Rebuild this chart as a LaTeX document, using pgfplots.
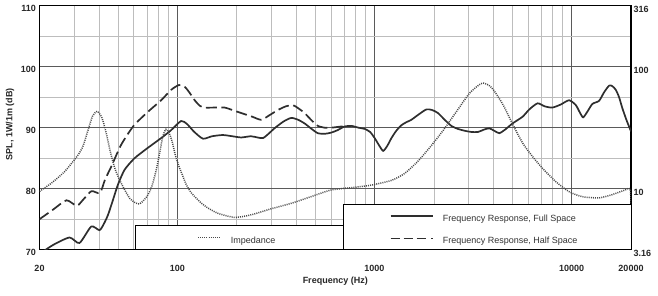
\documentclass[border=0pt]{standalone}
\usepackage{pgfplots}
\pgfplotsset{compat=1.18}
\usepackage{fontspec}
\setmainfont{Liberation Sans}
\definecolor{curve}{HTML}{2E2E2E}
\definecolor{dotc}{HTML}{4A4A4A}
\definecolor{majg}{HTML}{5A5A5A}
\definecolor{ming}{HTML}{BDBDBD}
\begin{document}
\begin{tikzpicture}
\path[use as bounding box] (-39.5pt,-45.3pt) rectangle (618.5pt,249.7pt);
\begin{axis}[
  scale only axis, width=591.5pt, height=244pt,
  xmode=log, xmin=20, xmax=20000, ymin=70, ymax=110,
  xtick={20,100,1000,10000,20000}, xticklabels={20,100,1000,10000,20000},
  minor xtick={30,40,50,60,70,80,90,200,300,400,500,600,700,800,900,2000,3000,4000,5000,6000,7000,8000,9000},
  ytick={70,80,90,100,110}, yticklabels={70,80,90,100,110},
  minor ytick={75,85,95,105},
  grid=both,
  major grid style={majg, line width=0.7pt},
  minor grid style={ming, line width=0.5pt},
  major tick length=0pt, minor tick length=0pt,
  axis line style={black, line width=1.2pt},
  tick label style={font=\fontsize{9}{10}\selectfont\bfseries, text=black!85},
  xticklabel style={anchor=center, yshift=-18.3pt},
  yticklabel style={anchor=east, inner sep=0pt, xshift=-3.5pt, yshift=-3pt},
  ylabel={SPL, 1W/1m (dB)},
  xlabel={Frequency (Hz)},
  label style={font=\fontsize{9}{10}\selectfont\bfseries, text=black!85},
  ylabel style={at={(axis description cs:-0.0499,0.515)}, anchor=center},
  xlabel style={at={(axis description cs:0.5,-0.131)}, anchor=center},
]
% Full space
\addplot[curve, line width=1.7pt, smooth, tension=0.4] coordinates {
(20,69.3) (23.5,70.8) (28.4,72.0) (31.9,71.1) (36.6,73.8) (40.3,73.2) (42.5,74.3)
(44.5,75.7) (47,78.0) (49.9,80.6) (54,83.1) (60.7,85.0) (70.9,86.7) (82.8,88.3)
(93,89.6) (104.5,91.1) (112,90.6) (122,89.3) (135,88.2) (150,88.6) (170,88.8)
(190,88.6) (211,88.4) (236,88.6) (255,88.4) (272,88.3) (290,89.0) (311,89.9)
(345,91.0) (378,91.6) (410,91.3) (442,90.7) (480,89.8) (516,89.1) (560,89.0)
(604,89.2) (650,89.6) (706,90.2) (764,90.3) (830,90.0) (893,89.8) (950,89.3)
(1002,88.3) (1060,87.0) (1107,86.2) (1160,87.0) (1219,88.3) (1290,89.5) (1369,90.4)
(1450,90.9) (1538,91.3) (1680,92.2) (1833,93.0) (1960,92.9) (2099,92.4) (2270,91.3)
(2453,90.3) (2650,89.8) (2866,89.5) (3100,89.3) (3350,89.3) (3600,89.7) (3820,89.9)
(4050,89.5) (4295,89.1) (4600,89.7) (5014,90.7) (5637,91.8) (6100,93.0) (6716,94.0)
(7300,93.5) (7987,93.3) (8800,93.8) (9705,94.5) (10500,93.7) (11000,92.5) (11430,91.7)
(12000,92.6) (12740,93.9) (13770,94.4) (14600,95.8) (15490,96.9) (16100,96.8)
(16750,96.2) (17400,95.0) (18080,93.2) (19000,91.2) (20000,89.4)
};
% Half space
\addplot[curve, line width=1.7pt, dash pattern=on 11pt off 4.5pt, smooth, tension=0.4] coordinates {
(20,75.0) (23.5,76.6) (27.4,78.1) (30.9,77.2) (33.5,78.3) (36.7,79.6) (40.5,79.3)
(43,81.5) (46.2,83.6) (51.9,87.2) (60,90.3) (70.9,92.6) (82.8,94.5) (93,96.2)
(102,97.0) (109,96.7) (115,95.8) (122.5,94.5) (130,93.6) (137.7,93.3) (155,93.3)
(173.8,93.3) (190,92.9) (211,92.4) (240,91.8) (266.7,91.3) (295,92.1) (323.6,92.9)
(355,93.5) (385.5,93.7) (410,93.2) (442,92.4) (480,91.2) (516,90.3) (560,90.0)
(604,90.0) (680,90.2) (764,90.3)
};
\end{axis}
\begin{axis}[
  scale only axis, width=591.5pt, height=244pt,
  xmode=log, ymode=log, xmin=20, xmax=20000, ymin=3.1623, ymax=316.23,
  axis x line=none, axis y line*=right,
  axis line style={draw=none},
  ytick={3.1623,10,100,316.23}, yticklabels={3.16,10,100,316},
  major tick length=0pt, minor tick length=0pt,
  yminorticks=false,
  tick label style={font=\fontsize{9}{10}\selectfont\bfseries, text=black!85},
  yticklabel style={anchor=west, inner sep=0pt, xshift=2.5pt, yshift=-3.5pt},
]
% Impedance
\addplot[dotc, line width=1.5pt, dash pattern=on 1pt off 1.1pt, smooth, tension=0.4] coordinates {
(20,9.5) (22.96,11.1) (26.8,13.8) (31.3,18.8) (33.3,22.5) (35.2,30.0) (37.2,39.5)
(39.3,43.0) (41.5,38.0) (43.5,29.0) (45.6,20.5) (48,15.0) (51.2,11.6) (57.5,8.3)
(64,7.5) (70,8.6) (74,10.3) (78,14.0) (81.5,20.0) (84.5,27.0) (87.5,30.7) (90.5,29.0)
(94,24.5) (98,18.5) (102,15.2) (106,13.0) (111,10.8) (118,9.2) (132.5,7.6) (140,7.1)
(160,6.3) (195,5.82) (236,6.1) (299,6.84) (378,7.59) (476,8.6) (604,9.77) (764,10.2)
(963,10.7) (1219,11.7) (1418,13.3) (1650,16.6) (1922,22.1) (2236,30.2) (2600,42.7)
(3025,60.3) (3393,71.0) (3574,73.3) (3800,70.5) (4012,64.6) (4500,48.4) (5050,33.1)
(5667,23.4) (6360,18.2) (7140,14.6) (8320,11.4) (9715,9.44) (11340,8.6) (13770,8.41)
(15960,8.91) (18700,9.77) (19800,10.0) (20000,7.6)
};
% legend boxes
\draw[black, line width=1pt, fill=white] (rel axis cs:0.1615,0) rectangle (rel axis cs:0.5131,0.0984);
\draw[black, line width=1pt, fill=white] (rel axis cs:0.5131,0) rectangle (rel axis cs:1,0.187);
\draw[dotc, line width=1.5pt, dash pattern=on 1pt off 1.1pt] (rel axis cs:0.268,0.0508) -- (rel axis cs:0.307,0.0508);
\node[anchor=west, inner sep=0pt, font=\fontsize{9}{10}\selectfont, text=black!80] at (rel axis cs:0.3232,0.0369) {Impedance};
\draw[curve, line width=1.6pt] (rel axis cs:0.5937,0.138) -- (rel axis cs:0.6648,0.138);
\draw[curve, line width=1.6pt, dash pattern=on 9pt off 4pt] (rel axis cs:0.5937,0.0467) -- (rel axis cs:0.6560,0.0467);
\draw[curve, line width=1.6pt] (rel axis cs:0.6625,0.0467) -- (rel axis cs:0.6648,0.0467);
\node[anchor=west, inner sep=0pt, font=\fontsize{9}{10}\selectfont, text=black!80] at (rel axis cs:0.6817,0.1246) {Frequency Response, Full Space};
\node[anchor=west, inner sep=0pt, font=\fontsize{9}{10}\selectfont, text=black!80] at (rel axis cs:0.6817,0.0357) {Frequency Response, Half Space};
\end{axis}
\end{tikzpicture}
\end{document}
